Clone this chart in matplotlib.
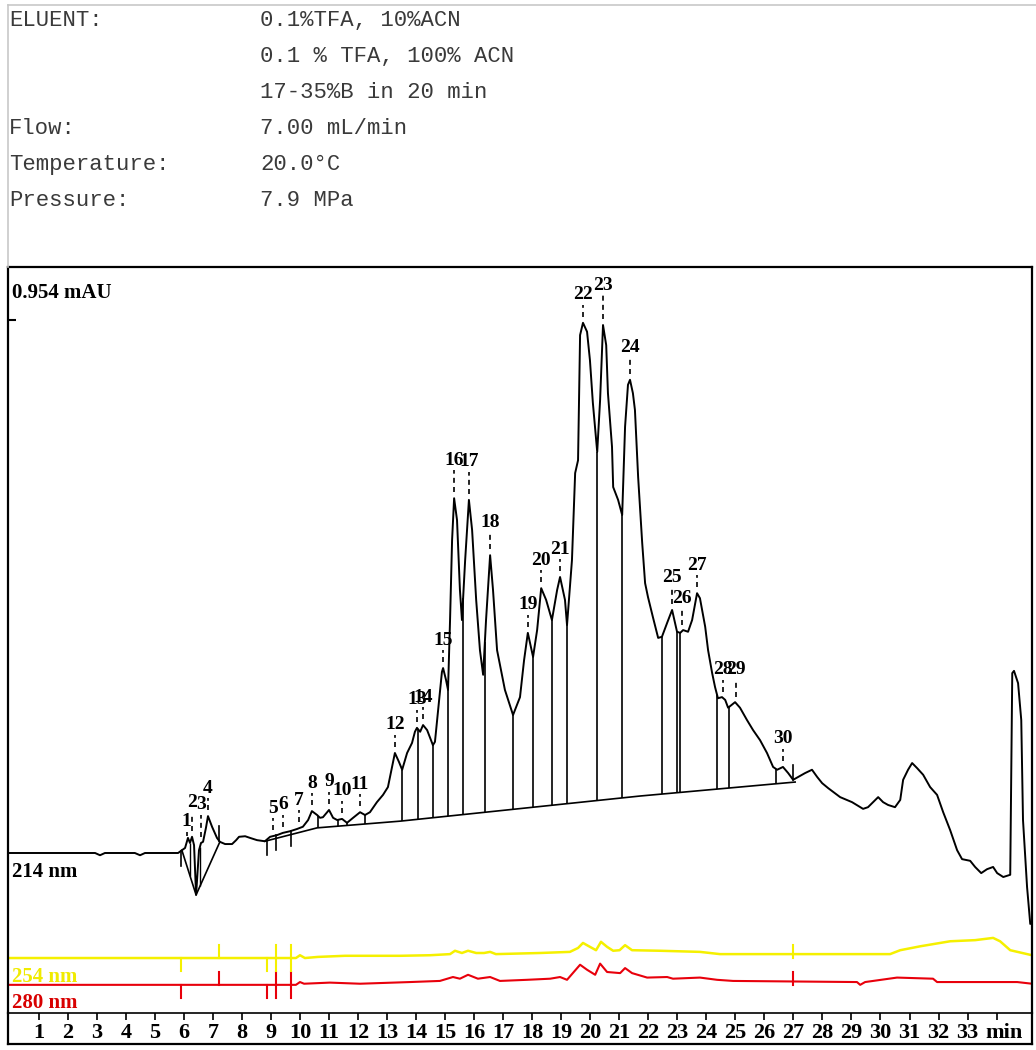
import numpy as np
import matplotlib.pyplot as plt

# method header
hdr_keys = ['ELUENT:', '', '', 'Flow:', 'Temperature:', 'Pressure:']
hdr_vals = ['0.1%TFA, 10%ACN', '0.1 % TFA, 100% ACN', '17-35%B in 20 min',
            '7.00 mL/min', '20.0°C', '7.9 MPa']

# 214 nm trace (min, mAU)
t214 = [-0.06, 2.94, 3.11, 3.28, 4.31, 4.49, 4.66, 5.80,
        5.93, 6.04, 6.14, 6.21, 6.28, 6.35, 6.42, 6.52, 6.59, 6.66, 6.76, 6.83, 6.97, 7.14, 7.24,
        7.42, 7.66, 7.80, 7.90, 8.11, 8.28, 8.52, 8.79,
        8.97, 9.21, 9.41, 9.66, 9.90, 10.10, 10.28, 10.41, 10.59, 10.69, 10.79, 11.00, 11.14,
        11.28, 11.45, 11.62, 11.83, 12.07, 12.24, 12.41, 12.65, 12.86, 13.03, 13.17, 13.27,
        13.41, 13.52, 13.69, 13.86, 13.96, 14.03, 14.14, 14.24, 14.38, 14.58, 14.65, 14.76,
        14.89, 14.93, 15.03, 15.10, 15.17, 15.24, 15.31, 15.41, 15.51, 15.58, 15.69, 15.82,
        15.93, 16.07, 16.20, 16.31, 16.41, 16.55, 16.65, 16.79, 17.06, 17.34, 17.58, 17.72,
        17.85, 18.03, 18.17, 18.31, 18.48, 18.68, 18.86, 18.96, 19.13, 19.20, 19.37, 19.48,
        19.58, 19.65, 19.75, 19.89, 19.99, 20.09, 20.24, 20.34, 20.44, 20.55, 20.61, 20.75,
        20.79, 20.96, 21.10, 21.20, 21.30, 21.37, 21.47, 21.54, 21.65, 21.79, 21.89, 21.99,
        22.16, 22.34, 22.47, 22.65, 22.82, 22.99, 23.10,
        23.20, 23.37, 23.51, 23.68, 23.78, 23.96, 24.06, 24.20, 24.30, 24.40, 24.54, 24.65,
        24.75, 24.99, 25.16, 25.40, 25.61, 25.85, 26.09, 26.30, 26.44, 26.64, 26.82, 26.99,
        27.16, 27.40, 27.64, 27.82, 27.99, 28.20, 28.61, 29.02, 29.40, 29.57, 29.92, 30.09,
        30.26, 30.50, 30.68, 30.78, 30.95, 31.09, 31.26, 31.47, 31.71, 31.95, 32.16, 32.40,
        32.64, 32.81, 33.09, 33.26, 33.47, 33.67, 33.88, 34.02, 34.23, 34.47, 34.54, 34.60,
        34.74, 34.85, 34.91, 35.05, 35.16, 35.22]
v214 = [0, 0, -0.004, 0, 0, -0.004, 0, 0,
        0.005, 0.009, 0.027, 0.018, 0.029, 0.014, -0.075, 0.005, 0.018, 0.020, 0.045, 0.066, 0.047, 0.027, 0.020,
        0.016, 0.016, 0.023, 0.029, 0.030, 0.027, 0.023, 0.021,
        0.029, 0.032, 0.036, 0.039, 0.043, 0.047, 0.059, 0.075, 0.068, 0.063, 0.064, 0.077, 0.063,
        0.059, 0.061, 0.054, 0.063, 0.073, 0.068, 0.073, 0.091, 0.104, 0.118, 0.154, 0.179,
        0.163, 0.149, 0.179, 0.197, 0.217, 0.224, 0.217, 0.229, 0.220, 0.193, 0.199, 0.256,
        0.324, 0.331, 0.310, 0.292, 0.417, 0.560, 0.635, 0.596, 0.471, 0.417, 0.524, 0.632,
        0.578, 0.453, 0.363, 0.319, 0.417, 0.533, 0.471, 0.363, 0.292, 0.247, 0.279, 0.345,
        0.394, 0.351, 0.399, 0.474, 0.453, 0.417, 0.471, 0.494, 0.453, 0.408, 0.524, 0.680,
        0.703, 0.927, 0.949, 0.933, 0.882, 0.806, 0.718, 0.811, 0.945, 0.909, 0.823, 0.727,
        0.655, 0.632, 0.605, 0.763, 0.838, 0.847, 0.823, 0.793, 0.673, 0.555, 0.483, 0.458,
        0.422, 0.385, 0.387, 0.412, 0.435, 0.396, 0.394,
        0.399, 0.396, 0.417, 0.465, 0.456, 0.405, 0.363, 0.322, 0.297, 0.277, 0.279, 0.274,
        0.260, 0.270, 0.260, 0.238, 0.220, 0.202, 0.179, 0.154, 0.149, 0.154, 0.143, 0.131,
        0.136, 0.143, 0.149, 0.136, 0.125, 0.116, 0.100, 0.091, 0.079, 0.082, 0.100, 0.091,
        0.086, 0.082, 0.095, 0.131, 0.149, 0.161, 0.152, 0.140, 0.118, 0.104, 0.073, 0.041,
        0.005, -0.011, -0.014, -0.025, -0.036, -0.029, -0.025, -0.036, -0.043, -0.039, 0.322, 0.326,
        0.304, 0.238, 0.059, -0.061, -0.127, -0.124]

# 254 nm trace
t254 = [-0.06, 9.86, 10.00, 10.17, 10.62, 11.55, 13.45, 14.48, 15.17, 15.34, 15.58, 15.79,
        16.07, 16.34, 16.55, 16.75, 18.27, 19.30, 19.58, 19.75, 19.99, 20.20, 20.37, 20.58,
        20.79, 21.01, 21.20, 21.44, 22.41, 23.78, 24.47, 30.33, 30.68, 31.37, 32.40, 33.26,
        33.88, 34.12, 34.47, 35.22]
v254 = [0, 0, 0.005, 0, 0.002, 0.004, 0.004, 0.005, 0.007, 0.013, 0.009, 0.013,
        0.009, 0.009, 0.011, 0.007, 0.009, 0.011, 0.018, 0.027, 0.020, 0.014, 0.029, 0.020,
        0.013, 0.014, 0.023, 0.014, 0.013, 0.011, 0.007, 0.007, 0.014, 0.021, 0.030, 0.032,
        0.036, 0.030, 0.014, 0.005]

# 280 nm trace
t280 = [-0.06, 9.86, 10.00, 10.14, 11.03, 12.07, 13.79, 14.82, 15.27, 15.51, 15.79, 16.13,
        16.55, 16.89, 17.82, 18.62, 18.96, 19.20, 19.65, 19.89, 20.17, 20.34, 20.58, 21.03,
        21.20, 21.44, 21.96, 22.65, 22.85, 23.78, 24.37, 24.92, 29.19, 29.30, 29.47, 30.57,
        31.81, 31.95, 34.71, 35.22]
v280 = [0, 0, 0.005, 0.002, 0.004, 0.002, 0.005, 0.007, 0.014, 0.011, 0.018, 0.011,
        0.014, 0.007, 0.009, 0.011, 0.014, 0.009, 0.036, 0.027, 0.018, 0.038, 0.023, 0.021,
        0.030, 0.021, 0.013, 0.014, 0.011, 0.013, 0.009, 0.007, 0.005, 0, 0.005, 0.013,
        0.011, 0.005, 0.005, 0.002]

# integration
peak_t = [6.10, 6.28, 6.59, 6.83, 9.07, 9.41, 9.97, 10.41, 11.00, 11.45, 12.07, 13.27,
          14.03, 14.24, 14.93, 15.31, 15.82, 16.55, 17.85, 18.31, 18.96, 19.75, 20.44,
          21.37, 22.82, 23.16, 23.68, 24.57, 25.02, 26.64]
peak_lab = [str(i) for i in range(1, 31)]
drop_t = [10.62, 11.31, 11.62, 12.24, 13.52, 14.07, 14.58, 15.10, 15.62, 16.37, 17.34,
          18.03, 18.68, 19.20, 20.24, 21.10, 22.47, 22.99, 23.10, 24.37, 24.78, 26.40]
base_t = [8.79, 10.59, 13.45, 21.72, 27.06]
base_v = [0.021, 0.045, 0.057, 0.102, 0.127]
vbase_t = [5.93, 6.42, 7.24]
vbase_v = [0.005, -0.075, 0.020]
vdrop_t = [6.21, 6.55]
event_t = [5.90, 7.21, 8.86, 9.17, 9.69, 26.99]

xticks = list(range(1, 35))
xlabels = [str(i) for i in range(1, 34)] + ['']
unit_t = 34.26

W, H = 1036, 1050
fig = plt.figure(figsize=(W / 100, H / 100), dpi=100)
x0, x1, ytop, yaxis, ybot = 8, 1032, 267, 1013, 1044
ax = fig.add_axes([x0 / W, 1 - yaxis / H, (x1 - x0) / W, (yaxis - ytop) / H])
ymin, ymax = -0.2864, 1.0489
ax.set_xlim(-0.06, 35.22)
ax.set_ylim(ymin, ymax)
dpp = (ymax - ymin) / (yaxis - ytop)  # mAU per pixel

off254, off280 = -0.188, -0.236
serif = 'Liberation Serif'
yel, red = '#f5f000', '#e8000b'

t214a, v214a = np.array(t214), np.array(v214)
ax.plot(t214a, v214a, color='black', lw=1.4, zorder=3, solid_joinstyle='round')
ax.plot(t254, np.array(v254) + off254, color=yel, lw=1.8)
ax.plot(t280, np.array(v280) + off280, color=red, lw=1.5)

# baselines and drop lines
ax.plot(base_t, base_v, color='black', lw=1.2)
ax.plot(vbase_t, vbase_v, color='black', lw=1.2)
top = np.interp(drop_t, t214a, v214a)
bot = np.interp(drop_t, base_t, base_v)
ax.vlines(drop_t, bot, top, color='black', lw=1.2)
ax.vlines(vdrop_t, np.interp(vdrop_t, vbase_t, vbase_v), np.interp(vdrop_t, t214a, v214a),
          color='black', lw=1.0)

# event marks
ev_dir = [-1, 1, -1, -1, -1, 1]
for t, d in zip(event_t, ev_dir):
    y = np.interp(t, t214a, v214a)
    ax.plot([t, t], [y, y + d * 15 * dpp], color='black', lw=1.2)
tr_dir = [(-1,), (1,), (-1,), (1, -1), (1, -1), (1,)]
for t, ds in zip(event_t, tr_dir):
    for d in ds:
        ax.plot([t, t], [off254, off254 + d * 13 * dpp], color=yel, lw=1.5)
        ax.plot([t, t], [off280, off280 + d * 13 * dpp], color=red, lw=1.5)

# peak labels
lab_off = {'1': 20, '2': 34, '3': 38, '16': 38, '17': 38, '18': 33, '23': 40,
           '24': 32, '25': 32, '26': 33, '29': 34}
for t, lab in zip(peak_t, peak_lab):
    y = np.interp(t, t214a, v214a)
    off = lab_off.get(lab, 28)
    ax.plot([t, t], [y + 6 * dpp, y + (off - 10) * dpp], color='black', lw=1.2,
            linestyle=(0, (3, 2.5)))
    ax.text(t, y + off * dpp, lab, ha='center', va='center', fontsize=14,
            fontfamily=serif, fontweight='bold')

# trace labels
bl = ax.get_yaxis_transform()
ax.text(0.004, 1.002, '0.954 mAU', transform=bl, fontsize=15, fontfamily=serif,
        fontweight='bold', va='center')
ax.text(0.004, -0.034, '214 nm', transform=bl, fontsize=15, fontfamily=serif,
        fontweight='bold', va='center')
ax.text(0.004, -0.222, '254 nm', transform=bl, fontsize=15, fontfamily=serif,
        fontweight='bold', va='center', color='#f0eb00')
ax.text(0.004, -0.268, '280 nm', transform=bl, fontsize=15, fontfamily=serif,
        fontweight='bold', va='center', color='#d80000')

ax.set_yticks([0.954])
ax.set_yticklabels([])
ax.tick_params(axis='y', direction='in', length=6, width=1.5)
ax.set_xticks(xticks)
ax.set_xticklabels(xlabels, fontfamily=serif, fontweight='bold', fontsize=16)
ax.tick_params(axis='x', direction='out', length=5, width=1.2, pad=2)
ax.text(unit_t, -0.013, 'min', transform=ax.get_xaxis_transform(), ha='center', va='top',
        fontfamily=serif, fontweight='bold', fontsize=16)
for s in ['top', 'left', 'right']:
    ax.spines[s].set_linewidth(1.6)
ax.spines['bottom'].set_linewidth(1.2)

# outer frame below the time axis and header border
fig.add_artist(plt.Line2D([x0 / W, x0 / W], [1 - yaxis / H, 1 - ybot / H], color='black', lw=1.6))
fig.add_artist(plt.Line2D([x1 / W, x1 / W], [1 - yaxis / H, 1 - ybot / H], color='black', lw=1.6))
fig.add_artist(plt.Line2D([x0 / W, x1 / W], [1 - ybot / H, 1 - ybot / H], color='black', lw=1.6))
fig.add_artist(plt.Line2D([x0 / W, 1], [1 - 5 / H, 1 - 5 / H], color='#c8c8c8', lw=1.2))
fig.add_artist(plt.Line2D([x0 / W, x0 / W], [1 - 5 / H, 1 - ytop / H], color='#c8c8c8', lw=1.2))

for i, (k, v) in enumerate(zip(hdr_keys, hdr_vals)):
    yy = 1 - (20 + 36.2 * i) / H
    fig.text(9 / W, yy, k, fontsize=16, fontfamily='Liberation Mono', color='#3a3a3a', va='center')
    fig.text(260 / W, yy, v, fontsize=16, fontfamily='Liberation Mono', color='#3a3a3a', va='center')

fig.savefig('out.png', dpi=100)
